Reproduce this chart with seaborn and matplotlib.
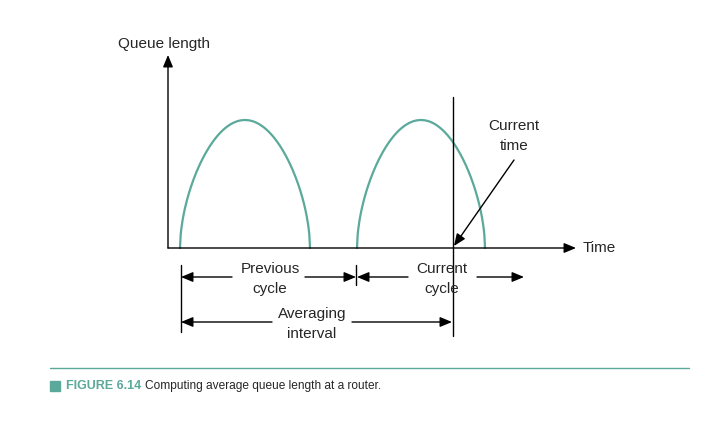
import numpy as np
import pandas as pd
import matplotlib
matplotlib.use("Agg")
import matplotlib.pyplot as plt
import seaborn as sns
from matplotlib.patches import Rectangle

# Diagram data (pixel coordinates of the reference layout)
hump_starts = [180, 357]
hump_ends = [310, 485]
hump_height = 128  # from baseline to peak
baseline_y = 248
origin_x = 168
labels_cycles = ["Previous\ncycle", "Current\ncycle"]

sns.set_theme(style="white")
plt.rcParams['font.family'] = ['Liberation Sans', 'DejaVu Sans']

fig = plt.figure(figsize=(7.22, 4.21), dpi=100)
ax = fig.add_axes([0, 0, 1, 1])
ax.set_xlim(0, 722)
ax.set_ylim(421, 0)
ax.axis("off")

teal = "#5aa99a"
rows = []
for i, (s, e) in enumerate(zip(hump_starts, hump_ends)):
    t = np.linspace(0, 1, 200)
    xs = s + (e - s) * t
    ys = baseline_y - hump_height * np.sin(np.pi * t) ** 0.55
    for x, y in zip(xs, ys):
        rows.append({"x": x, "y": y, "hump": i})
df = pd.DataFrame(rows)
sns.lineplot(data=df, x="x", y="y", units="hump", estimator=None, color=teal, lw=1.6, ax=ax, sort=False)

k = dict(color="black", lw=1.0)
arr = dict(arrowstyle="-|>,head_width=0.25,head_length=0.6", color="black", lw=1.0, shrinkA=0, shrinkB=0)
# axes
ax.annotate("", xy=(origin_x, 55), xytext=(origin_x, baseline_y), arrowprops=arr)
ax.annotate("", xy=(576, baseline_y), xytext=(origin_x, baseline_y), arrowprops=arr)
ax.text(583, baseline_y, "Time", va="center", ha="left", fontsize=11)
ax.text(118, 44, "Queue length", va="center", ha="left", fontsize=11)

# current time line
ax.plot([453, 453], [97, 336], **k)
ax.text(514, 136, "Current\ntime", ha="center", va="center", fontsize=11, linespacing=1.5)
ax.annotate("", xy=(454, 246), xytext=(514, 160), arrowprops=arr)

# ticks
for x, y0, y1 in [(181, 265, 332), (356, 265, 285)]:
    ax.plot([x, x], [y0, y1], **k)

# Previous cycle arrows
ax.annotate("", xy=(181, 277), xytext=(232, 277), arrowprops=arr)
ax.annotate("", xy=(356, 277), xytext=(305, 277), arrowprops=arr)
ax.text(270, 279, labels_cycles[0], ha="center", va="center", fontsize=11, linespacing=1.5)
# Current cycle arrows
ax.annotate("", xy=(357, 277), xytext=(408, 277), arrowprops=arr)
ax.annotate("", xy=(524, 277), xytext=(477, 277), arrowprops=arr)
ax.text(442, 279, labels_cycles[1], ha="center", va="center", fontsize=11, linespacing=1.5)
# Averaging interval
ax.annotate("", xy=(181, 322), xytext=(272, 322), arrowprops=arr)
ax.annotate("", xy=(452, 322), xytext=(352, 322), arrowprops=arr)
ax.text(312, 324, "Averaging\ninterval", ha="center", va="center", fontsize=11, linespacing=1.5)

# caption
ax.plot([50, 689], [368, 368], color=teal, lw=1.0)
ax.add_patch(Rectangle((50, 381), 10, 10, color=teal))
ax.text(66, 386, "FIGURE 6.14", fontsize=9, fontweight="bold", color=teal, va="center")
ax.text(145, 386, "Computing average queue length at a router.", fontsize=8.6, va="center")

fig.savefig("out.png", dpi=100)
